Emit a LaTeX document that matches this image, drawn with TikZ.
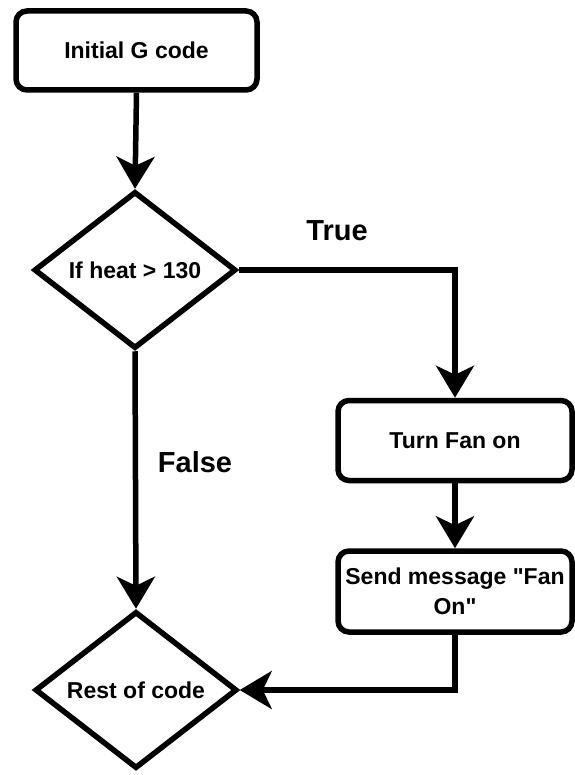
\documentclass[tikz,border=0pt]{standalone}
\usepackage{fontspec}
\setmainfont{Liberation Sans}[Ligatures=TeXOff]
\usetikzlibrary{shapes.geometric,arrows.meta}
\begin{document}
\begin{tikzpicture}[x=1pt,y=-1pt,
  every node/.style={font=\bfseries\fontsize{23}{30}\selectfont},
  box/.style={draw,line width=5.5pt,rounded corners=11pt,minimum width=234pt,minimum height=80pt,inner sep=0pt,align=center},
  dec/.style={draw,diamond,line width=5.5pt,aspect=1.28,minimum width=202pt,minimum height=157pt,inner sep=0pt},
  arr/.style={line width=5.5pt,line join=miter,-{Stealth[length=32pt,width=38pt,inset=9pt]}},
  lbl/.style={font=\bfseries\fontsize{29}{32}\selectfont}]
\fill[white] (0,0) rectangle (574,775);
\useasboundingbox (0,0) rectangle (574,775);
\node[box,minimum width=241pt,minimum height=79pt] (init) at (136.5,50.5) {Initial G code};
\node[dec] (d1) at (135,270) {If heat > 130};
\node[box] (fan) at (455,440.5) {Turn Fan on};
\node[box,minimum height=81pt] (send) at (455,591.5) {Send message "Fan\\On"};
\node[dec] (d2) at (136,690) {Rest of code};
\node[lbl] (t) at (337,231) {True};
\node[lbl] (f) at (195,462) {False};
\draw[arr] (init.south) -- (d1.north);
\draw[arr] (d1.east) -| (fan.north);
\draw[arr] (fan.south) -- (send.north);
\draw[arr] (d1.south) -- (d2.north);
\draw[arr] (send.south) |- (d2.east);
\end{tikzpicture}
\end{document}
